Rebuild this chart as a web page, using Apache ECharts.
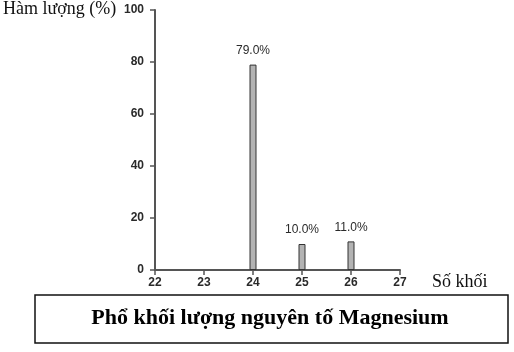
<!DOCTYPE html>
<html>
<head>
<meta charset="utf-8">
<script src="https://cdn.jsdelivr.net/npm/echarts@6/dist/echarts.min.js"></script>
<style>
  html, body { margin: 0; padding: 0; background: #fff; }
  #chart { width: 514px; height: 352px; }
</style>
</head>
<body>
<div id="chart"></div>
<script>
// so khoi (mass number) and ham luong (abundance, %)
const massNumbers = [24, 25, 26]
const abundances = [79.0, 10.0, 11.0]
const xTicks = [22, 23, 24, 25, 26, 27]
const yTicks = [0, 20, 40, 60, 80, 100]

const chart = echarts.init(document.getElementById('chart'))

const axisColor = '#555'
const tickFont = { fontFamily: 'Liberation Sans, Arial', fontSize: 12, fontWeight: 'bold', color: '#2a2a2a' }

chart.setOption({
  animation: false,
  grid: { left: 155, right: 114, top: 10, bottom: 82 },
  xAxis: {
    type: 'value',
    min: xTicks[0],
    max: xTicks[xTicks.length - 1],
    interval: 1,
    splitLine: { show: false },
    axisLine: { lineStyle: { color: axisColor, width: 2 } },
    axisTick: { length: 5, lineStyle: { color: axisColor, width: 1.5 } },
    axisLabel: Object.assign({ margin: 7 }, tickFont)
  },
  yAxis: {
    type: 'value',
    min: yTicks[0],
    max: yTicks[yTicks.length - 1],
    interval: 20,
    splitLine: { show: false },
    axisLine: { show: true, lineStyle: { color: axisColor, width: 2 } },
    axisTick: { show: true, length: 5, lineStyle: { color: axisColor, width: 1.5 } },
    axisLabel: Object.assign({ margin: 11 }, tickFont)
  },
  series: [{
    type: 'bar',
    barWidth: 7,
    data: massNumbers.map((m, i) => [m, abundances[i]]),
    itemStyle: { color: '#b3b3b3', borderColor: '#333', borderWidth: 1 },
    label: {
      show: true,
      position: 'top',
      distance: 8,
      formatter: p => p.value[1].toFixed(1) + '%',
      fontFamily: 'Liberation Sans, Arial',
      fontSize: 12,
      color: '#2a2a2a'
    }
  }],
  graphic: [
    {
      type: 'text', left: 3, top: 0,
      style: { text: 'Hàm lượng (%)', font: '18px "Liberation Serif", "Times New Roman", serif', fill: '#111' }
    },
    {
      type: 'text', left: 432, top: 273,
      style: { text: 'Số khối', font: '18px "Liberation Serif", "Times New Roman", serif', fill: '#111' }
    },
    {
      type: 'rect',
      shape: { x: 35, y: 295, width: 473, height: 48 },
      style: { fill: '#fff', stroke: '#111', lineWidth: 1.5 }
    },
    {
      type: 'text', x: 270, y: 318,
      style: {
        text: 'Phổ khối lượng nguyên tố Magnesium',
        font: 'bold 22px "Liberation Serif", "Times New Roman", serif',
        fill: '#000', align: 'center', verticalAlign: 'middle'
      }
    }
  ]
})
</script>
</body>
</html>
